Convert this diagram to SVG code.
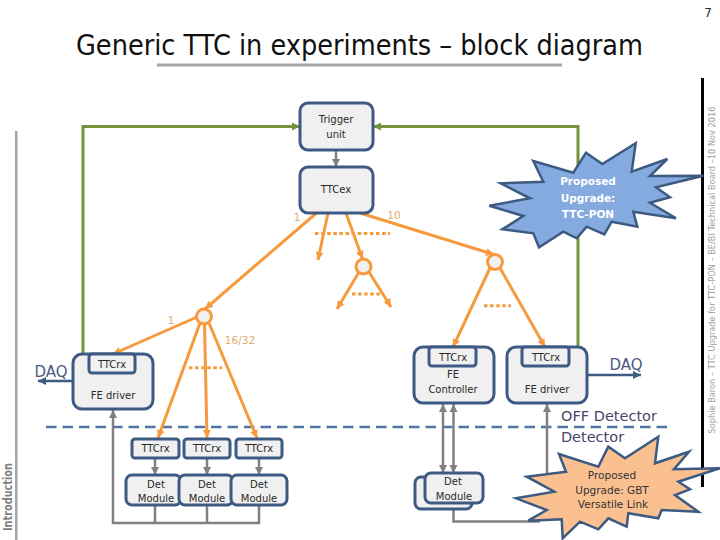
<svg xmlns="http://www.w3.org/2000/svg" width="720" height="540" viewBox="0 0 720 540">
<style>
text{font-family:"DejaVu Sans","Liberation Sans",sans-serif;font-size:10px;fill:#2a2a2a;text-anchor:middle}
.n{fill:#f0f0f0;stroke:#3c5a82;stroke-width:3}
.o,.g,.gr,.b{fill:none;stroke-linecap:butt}
.o{stroke:#f79a3e;stroke-width:3}
.g{stroke:#808080;stroke-width:2.5}
.gr{stroke:#76923c;stroke-width:3}
.b{stroke:#3c5a82;stroke-width:2.6}
.d{fill:none;stroke:#f79a3e;stroke-width:3;stroke-dasharray:3.5 2.6}
.l{fill:#e2ac6c;font-size:10.5px}
.big{font-size:15px;fill:#4a5a80}
.c{fill:#f0f0f0;stroke:#f79a3e;stroke-width:3}
</style>
<defs>
<marker id="ao" markerUnits="userSpaceOnUse" markerWidth="10" markerHeight="10" refX="8" refY="5" orient="auto"><path d="M0 1L8 5L0 9z" fill="#f79a3e"/></marker>
<marker id="ag" markerUnits="userSpaceOnUse" markerWidth="10" markerHeight="10" refX="8" refY="5" orient="auto-start-reverse"><path d="M0 1L8 5L0 9z" fill="#808080"/></marker>
<marker id="agr" markerUnits="userSpaceOnUse" markerWidth="10" markerHeight="10" refX="8" refY="5" orient="auto"><path d="M0 1L8 5L0 9z" fill="#76923c"/></marker>
<marker id="ab" markerUnits="userSpaceOnUse" markerWidth="10" markerHeight="10" refX="8" refY="5" orient="auto"><path d="M0 1L8 5L0 9z" fill="#3c5a82"/></marker>
</defs>
<g id="frame">
<text x="359.5" y="55" style="font-size:28px;fill:#111" textLength="567" lengthAdjust="spacingAndGlyphs">Generic TTC in experiments – block diagram</text>
<rect x="157" y="63.500" width="405" height="3" fill="#a6a6a6"/>
<text x="708" y="17" style="font-size:12px">7</text>
<rect x="701" y="78" width="3" height="409" fill="#000"/>
<rect x="15" y="131" width="2.500" height="409" fill="#a6a6a6"/>
<text transform="translate(12,497) rotate(-90)" style="font-size:11.500px;font-weight:bold;fill:#7f7f7f" textLength="68" lengthAdjust="spacingAndGlyphs">Introduction</text>
<text transform="translate(715,270) rotate(-90)" style="font-size:8.500px;fill:#a0a0a0" textLength="327" lengthAdjust="spacingAndGlyphs">Sophie Baron – TTC Upgrade for TTC-PON – BE/BI Technical Board –10 Nov 2016</text>
<path d="M46 427H670" fill="none" stroke="#4f74a3" stroke-width="2.500" stroke-dasharray="10.500 6"/>
</g>
<g id="connectors">
<path class="gr" d="M83 354V126.500H300" marker-end="url(#agr)"/>
<path class="gr" d="M578 347V126.500H373" marker-end="url(#agr)"/>
<path class="g" d="M336 150V167" marker-end="url(#ag)"/>
<path class="o" d="M316.500 213L205 309" marker-end="url(#ao)"/>
<path class="o" d="M328 213L318 260" marker-end="url(#ao)"/>
<path class="o" d="M346 213L362.500 259" marker-end="url(#ao)"/>
<path class="o" d="M360 213L494 254.500" marker-end="url(#ao)"/>
<path class="o" d="M197 317L113 354" marker-end="url(#ao)"/>
<path class="o" d="M200 323L158 438" marker-end="url(#ao)"/>
<path class="o" d="M204.500 324L207 438" marker-end="url(#ao)"/>
<path class="o" d="M209 323L257 438" marker-end="url(#ao)"/>
<path class="o" d="M359 272L337 309" marker-end="url(#ao)"/>
<path class="o" d="M369 272L391 307" marker-end="url(#ao)"/>
<path class="o" d="M490 268L453 347" marker-end="url(#ao)"/>
<path class="o" d="M500 268L545 347" marker-end="url(#ao)"/>
<path class="d" d="M315 233.500H390M352 294H380M484 305.700H511M189 367.700H222"/>
<path class="b" d="M73 381H38" marker-end="url(#ab)"/>
<path class="b" d="M587 375H641" marker-end="url(#ab)"/>
<path class="g" d="M155 458V475" marker-end="url(#ag)"/>
<path class="g" d="M207 458V475" marker-end="url(#ag)"/>
<path class="g" d="M259 458V475" marker-end="url(#ag)"/>
<path class="g" d="M155 505V523M207 505V523M259 505V523H113V410" marker-end="url(#ag)"/>
<path class="g" d="M443 404V473" marker-start="url(#ag)" marker-end="url(#ag)"/>
<path class="g" d="M453.500 404V473" marker-start="url(#ag)" marker-end="url(#ag)"/>
<path class="g" d="M453.500 503V521.500H540"/>
<path class="g" d="M547 480V404" marker-end="url(#ag)"/>
</g>
<g id="trigger-unit"><rect class="n" x="300" y="103" width="73" height="47" rx="8"/><text x="336" y="123">Trigger</text><text x="336" y="138">unit</text></g>
<g id="ttcex"><rect class="n" x="300" y="167" width="73" height="46" rx="8"/><text x="336" y="193">TTCex</text></g>
<g id="splitter-1"><circle class="c" cx="204" cy="316.500" r="7.500"/></g>
<g id="splitter-2"><circle class="c" cx="363.500" cy="266.500" r="7.500"/></g>
<g id="splitter-3"><circle class="c" cx="495" cy="262" r="7.500"/></g>
<g id="fe-driver-left"><rect class="n" x="73" y="354" width="80" height="55" rx="9"/><rect class="n" x="89" y="354" width="46" height="19" rx="3"/><text x="112" y="368">TTCrx</text><text x="113" y="399">FE driver</text></g>
<g id="fe-controller"><rect class="n" x="414" y="347" width="80" height="56" rx="9"/><rect class="n" x="429" y="347" width="47" height="19" rx="3"/><text x="453" y="361">TTCrx</text><text x="453" y="378">FE</text><text x="453" y="393">Controller</text></g>
<g id="fe-driver-right"><rect class="n" x="507" y="347" width="80" height="56" rx="9"/><rect class="n" x="522" y="347" width="47" height="19" rx="3"/><text x="546" y="361">TTCrx</text><text x="547" y="393">FE driver</text></g>
<g id="ttcrx-1"><rect class="n" x="132" y="439" width="47" height="19" rx="3"/><text x="155.500" y="452">TTCrx</text></g>
<g id="ttcrx-2"><rect class="n" x="184" y="439" width="46" height="19" rx="3"/><text x="207" y="452">TTCrx</text></g>
<g id="ttcrx-3"><rect class="n" x="236" y="439" width="46" height="19" rx="3"/><text x="259" y="452">TTCrx</text></g>
<g id="det-module-1"><rect class="n" x="126" y="475" width="55" height="30" rx="6"/><text x="156" y="488">Det</text><text x="156" y="502">Module</text></g>
<g id="det-module-2"><rect class="n" x="179" y="475" width="54" height="30" rx="6"/><text x="207" y="488">Det</text><text x="207" y="502">Module</text></g>
<g id="det-module-3"><rect class="n" x="231" y="475" width="56" height="30" rx="6"/><text x="259" y="488">Det</text><text x="259" y="502">Module</text></g>
<g id="det-module-4"><rect class="n" x="415" y="477" width="57" height="32" rx="6"/><rect class="n" x="425" y="473" width="58" height="30" rx="6"/><text x="453" y="485">Det</text><text x="454" y="500">Module</text></g>
<g id="labels">
<text class="l" x="297" y="221">1</text><text class="l" x="394" y="219">10</text><text class="l" x="171" y="324">1</text><text class="l" x="240" y="344">16/32</text>
<text class="big" x="51" y="377">DAQ</text><text class="big" x="626" y="370">DAQ</text>
<text class="big" x="609" y="421" style="fill:#4c4468;font-size:14.500px">OFF Detector</text><text class="big" x="592.500" y="442" style="fill:#4c4468;font-size:14.500px">Detector</text>
</g>
<g id="star-ttc-pon"><polygon fill="#85aadf" stroke="#3c5a82" stroke-width="2.500" stroke-linejoin="miter" points="703.300,175.700 656,187.300 670,197.300 650,202.700 676,218.300 633.300,211.700 637.300,226.700 611.700,221.700 604.300,234.300 586.700,226.700 576.700,238.300 563.300,231.700 539,247.300 533.300,233.300 502.300,229.300 523.300,216 489.300,205.700 530,198.300 500.700,183.300 543.300,181.700 533.300,161 573.300,172.700 586,152.700 602.300,164 635.700,143.300 631.700,171.700 667.300,159 650,176"/>
<text x="588" y="185" style="fill:#fff;font-weight:bold;font-size:10.500px">Proposed</text><text x="588" y="202" style="fill:#fff;font-weight:bold;font-size:10.500px">Upgrade:</text><text x="588" y="218" style="fill:#fff;font-weight:bold;font-size:10.500px">TTC-PON</text></g>
<g id="star-gbt"><polygon fill="#fac090" stroke="#3c5a82" stroke-width="2.500" points="658.300,436.700 655,463.300 689,451.700 674,469.300 720,468.300 678.300,481.700 690,489.300 675,495 698.300,511.700 661.700,510 658.300,518.300 628.300,513.300 626.700,526.700 608.300,518.300 598.300,529.300 580,521.700 562.700,538.300 561.700,519.300 528.300,520.700 546.700,510 516,498.300 554.300,491.700 526.700,476.700 566,471.700 559,454 598.300,466.700 608.300,446.700 625,458.300"/>
<text x="612" y="479" style="fill:#333;font-size:10.500px">Proposed</text><text x="612" y="494" style="fill:#333;font-size:10.500px">Upgrade: GBT</text><text x="613" y="508" style="fill:#333;font-size:10.500px">Versatile Link</text></g>
</svg>
